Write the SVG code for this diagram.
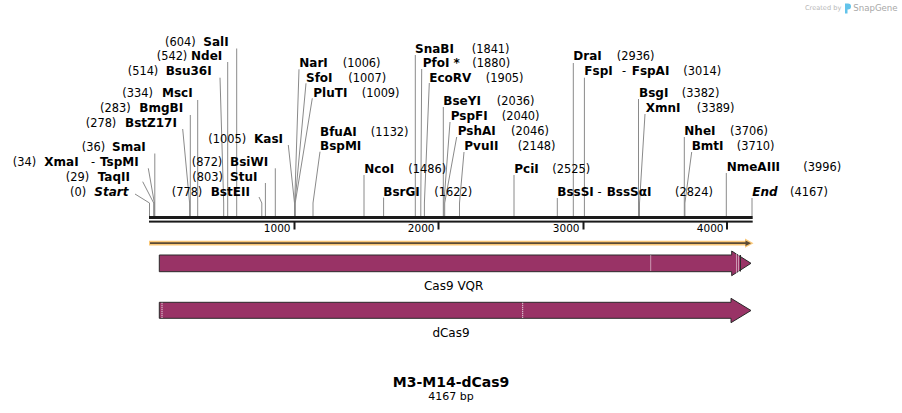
<svg xmlns="http://www.w3.org/2000/svg" width="902" height="413" viewBox="0 0 902 413">
<style>
text{font-family:"DejaVu Sans",Verdana,sans-serif;fill:#000}
.n{font-size:12px;font-weight:bold}
.p{font-size:11.4px}
.it{font-style:italic}
.tk{font-size:10.5px;text-anchor:end}
.c line,.c polyline{stroke:#8a8a8a;stroke-width:1;fill:none}
.feat{fill:#993366;stroke:#2a2a2a;stroke-width:1}
.dot{stroke:#fff;stroke-width:1;stroke-dasharray:1 1}
.lbl{font-size:12px;text-anchor:middle}
</style>
<rect width="902" height="413" fill="#fff"/>
<g id="credit">
<text x="805" y="10" style="font-size:6.6px;fill:#b8b8b8">Created by</text>
<path d="M845,3.5 h3 a3,3 0 0 1 0,6 h-0.5 v4 h-2.5 z" fill="#63c3ea"/>
<text x="853.3" y="11" style="font-size:8.6px;fill:#a8a8a8">SnapGene</text>
</g>
<g id="connectors" class="c">
<polyline points="135,194 149.5,203 149.5,216"/>
<polyline points="142.7,181.7 153.7,203 153.7,216"/>
<polyline points="148.3,168.3 154.4,203 154.4,216"/>
<line x1="154.8" y1="153.5" x2="154.8" y2="216"/>
<polyline points="182.7,129 189.6,203 189.6,216"/>
<line x1="190.3" y1="115" x2="190.3" y2="216"/>
<line x1="197.7" y1="100" x2="197.7" y2="216"/>
<polyline points="220,77.7 223.7,203 223.7,216"/>
<line x1="227.7" y1="62" x2="227.7" y2="216"/>
<line x1="236.7" y1="48.5" x2="236.7" y2="216"/>
<polyline points="259,197 261.8,203 261.8,216"/>
<line x1="265.4" y1="183" x2="265.4" y2="216"/>
<line x1="275.3" y1="168.3" x2="275.3" y2="216"/>
<polyline points="288.3,145 294.5,203 294.5,216"/>
<polyline points="299,69.3 294.7,203 294.7,216"/>
<polyline points="306,83.3 294.9,203 294.9,216"/>
<polyline points="312.3,98.3 295.2,203 295.2,216"/>
<polyline points="320,151.7 313,203 313,216"/>
<line x1="364" y1="175" x2="364" y2="216"/>
<line x1="383.6" y1="197.5" x2="383.6" y2="216"/>
<line x1="415.3" y1="55" x2="415.3" y2="216"/>
<polyline points="421.7,69 420.8,203 420.8,216"/>
<polyline points="429.3,83 424.4,203 424.4,216"/>
<line x1="443.3" y1="107" x2="443.3" y2="216"/>
<polyline points="450,122 443.9,203 443.9,216"/>
<polyline points="456.7,137 444.7,203 444.7,216"/>
<polyline points="464,152 459.5,203 459.5,216"/>
<line x1="514" y1="175" x2="514" y2="216"/>
<line x1="557.3" y1="198" x2="557.3" y2="216"/>
<line x1="573.3" y1="63" x2="573.3" y2="216"/>
<line x1="584.4" y1="77.7" x2="584.4" y2="216"/>
<line x1="638.5" y1="99" x2="638.5" y2="216"/>
<polyline points="645,114 639.5,203 639.5,216"/>
<line x1="684.3" y1="137" x2="684.3" y2="216"/>
<polyline points="691.7,152 684.9,203 684.9,216"/>
<line x1="726.3" y1="173" x2="726.3" y2="216"/>
<line x1="752" y1="198" x2="752" y2="216"/>
</g>
<g id="backbone">
<rect x="149" y="216" width="603.7" height="3" fill="#1a1a1a"/>
<rect x="149" y="220.6" width="603.7" height="2" fill="#1a1a1a"/>
<rect x="293.5" y="222" width="2" height="7.5" fill="#1a1a1a"/>
<rect x="437.5" y="222" width="2" height="7.5" fill="#1a1a1a"/>
<rect x="582.5" y="222" width="2" height="7.5" fill="#1a1a1a"/>
<rect x="726" y="222" width="2" height="7.5" fill="#1a1a1a"/>
<text class="tk" x="290.5" y="232.3">1000</text>
<text class="tk" x="434.5" y="232.3">2000</text>
<text class="tk" x="579.5" y="232.3">3000</text>
<text class="tk" x="723.5" y="232.3">4000</text>
</g>
<g id="orf">
<path d="M149,240.8 H745 V238.6 L753.5,243.2 L745,247.8 V245.6 H149 Z" fill="#fac878"/>
<line x1="150" y1="243.2" x2="746" y2="243.2" stroke="#5a4a35" stroke-width="1.7"/>
<path d="M745.5,240.4 L751,243.2 L745.5,246 Z" fill="#5a4a35"/>
</g>
<g id="cas9vqr">
<path class="feat" d="M159.3,255 H731.7 V251 L751,263.3 L731.7,275.7 V271.7 H159.3 Z"/>
<line class="dot" x1="650.7" y1="255.5" x2="650.7" y2="271.2"/>
<line class="dot" x1="736.5" y1="253.5" x2="736.5" y2="273"/>
<line class="dot" x1="738.5" y1="254.5" x2="738.5" y2="272"/>
<line x1="740.5" y1="255" x2="740.5" y2="271.5" stroke="#2a2a2a" stroke-width="1"/>
<text class="lbl" x="453.7" y="290">Cas9 VQR</text>
</g>
<g id="dcas9">
<path class="feat" d="M159.3,302.3 H731 V298.3 L751,310.5 L731,322.7 V318.3 H159.3 Z"/>
<line class="dot" x1="162" y1="302.8" x2="162" y2="317.8"/>
<line class="dot" x1="522.7" y1="302.8" x2="522.7" y2="317.8"/>
<text class="lbl" x="451" y="337">dCas9</text>
</g>
<g id="SalI"><text class="p" x="165" y="46">(604)</text><text class="n" x="203.3" y="46">SalI</text></g>
<g id="NdeI"><text class="p" x="156.7" y="60">(542)</text><text class="n" x="191" y="60">NdeI</text></g>
<g id="Bsu36I"><text class="p" x="127.7" y="75">(514)</text><text class="n" x="165.7" y="75">Bsu36I</text></g>
<g id="MscI"><text class="p" x="122.3" y="97">(334)</text><text class="n" x="162" y="97">MscI</text></g>
<g id="BmgBI"><text class="p" x="100" y="112">(283)</text><text class="n" x="139.3" y="112">BmgBI</text></g>
<g id="BstZ17I"><text class="p" x="85.7" y="127">(278)</text><text class="n" x="125" y="127">BstZ17I</text></g>
<g id="KasI"><text class="p" x="208.3" y="142.5">(1005)</text><text class="n" x="254" y="142.5">KasI</text></g>
<g id="SmaI"><text class="p" x="81.7" y="151">(36)</text><text class="n" x="112" y="151">SmaI</text></g>
<g id="XmaI"><text class="p" x="12.7" y="166">(34)</text><text class="n" x="44.3" y="166">XmaI</text><text class="p" x="91" y="166">-</text><text class="n" x="100" y="166">TspMI</text></g>
<g id="BsiWI"><text class="p" x="191.7" y="166">(872)</text><text class="n" x="230" y="166">BsiWI</text></g>
<g id="TaqII"><text class="p" x="65.7" y="180.5">(29)</text><text class="n" x="97.7" y="180.5">TaqII</text></g>
<g id="StuI"><text class="p" x="192.3" y="180.5">(803)</text><text class="n" x="230" y="180.5">StuI</text></g>
<g id="Start"><text class="p" x="70" y="196">(0)</text><text class="n it" x="94.3" y="196">Start</text></g>
<g id="BstEII"><text class="p" x="171.7" y="196">(778)</text><text class="n" x="210.7" y="196">BstEII</text></g>
<g id="NarI"><text class="n" x="299.3" y="67">NarI</text><text class="p" x="342.7" y="67">(1006)</text></g>
<g id="SfoI"><text class="n" x="306" y="82">SfoI</text><text class="p" x="348.3" y="82">(1007)</text></g>
<g id="PluTI"><text class="n" x="313.3" y="96.5">PluTI</text><text class="p" x="361.7" y="96.5">(1009)</text></g>
<g id="BfuAI"><text class="n" x="320" y="136">BfuAI</text><text class="p" x="370.7" y="136">(1132)</text><text class="n" x="320" y="149.5">BspMI</text></g>
<g id="NcoI"><text class="n" x="364.3" y="173">NcoI</text><text class="p" x="408.3" y="173">(1486)</text></g>
<g id="BsrGI"><text class="n" x="383.3" y="196">BsrGI</text><text class="p" x="434.3" y="196">(1622)</text></g>
<g id="SnaBI"><text class="n" x="415" y="53">SnaBI</text><text class="p" x="471.7" y="53">(1841)</text></g>
<g id="PfoI"><text class="n" x="422.7" y="67">PfoI *</text><text class="p" x="472.3" y="67">(1880)</text></g>
<g id="EcoRV"><text class="n" x="429.3" y="82">EcoRV</text><text class="p" x="485.7" y="82">(1905)</text></g>
<g id="BseYI"><text class="n" x="443.3" y="105">BseYI</text><text class="p" x="496.7" y="105">(2036)</text></g>
<g id="PspFI"><text class="n" x="450.7" y="120">PspFI</text><text class="p" x="501.7" y="120">(2040)</text></g>
<g id="PshAI"><text class="n" x="457.7" y="134.5">PshAI</text><text class="p" x="511" y="134.5">(2046)</text></g>
<g id="PvuII"><text class="n" x="464.3" y="149.5">PvuII</text><text class="p" x="517.7" y="149.5">(2148)</text></g>
<g id="PciI"><text class="n" x="514.3" y="173">PciI</text><text class="p" x="552.3" y="173">(2525)</text></g>
<g id="DraI"><text class="n" x="573.3" y="60">DraI</text><text class="p" x="616.7" y="60">(2936)</text></g>
<g id="FspI"><text class="n" x="584.3" y="75">FspI</text><text class="p" x="622" y="75">-</text><text class="n" x="631.7" y="75">FspAI</text><text class="p" x="683.3" y="75">(3014)</text></g>
<g id="BsgI"><text class="n" x="639" y="97">BsgI</text><text class="p" x="681.7" y="97">(3382)</text></g>
<g id="XmnI"><text class="n" x="645.7" y="112">XmnI</text><text class="p" x="696.7" y="112">(3389)</text></g>
<g id="NheI"><text class="n" x="684.3" y="134.5">NheI</text><text class="p" x="730" y="134.5">(3706)</text></g>
<g id="BmtI"><text class="n" x="691.7" y="150">BmtI</text><text class="p" x="736.7" y="150">(3710)</text></g>
<g id="NmeAIII"><text class="n" x="726.7" y="171">NmeAIII</text><text class="p" x="803.3" y="171">(3996)</text></g>
<g id="BssSI"><text class="n" x="557.3" y="196">BssSI</text><text class="p" x="597.5" y="196">-</text><text class="n" x="606.7" y="196">BssSαI</text><text class="p" x="675" y="196">(2824)</text></g>
<g id="End"><text class="n it" x="752.3" y="196">End</text><text class="p" x="790" y="196">(4167)</text></g>
<g id="title">
<text x="451" y="387.3" style="font-size:14px;font-weight:bold;text-anchor:middle">M3-M14-dCas9</text>
<text x="451" y="399.5" style="font-size:11px;text-anchor:middle">4167 bp</text>
</g>
</svg>
